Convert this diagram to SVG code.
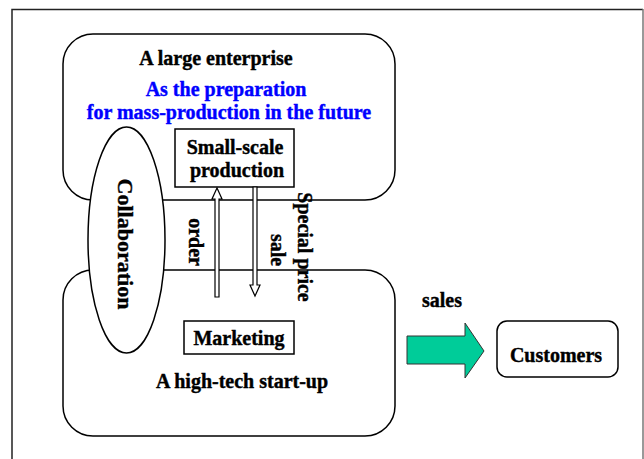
<svg xmlns="http://www.w3.org/2000/svg" width="644" height="459" viewBox="0 0 644 459">
<style>
text{font-family:"Liberation Serif","Times New Roman",serif;font-weight:bold;font-size:20px;fill:#000;stroke:#000;stroke-width:0.4;text-anchor:middle}
.blue{fill:#0000ff;stroke:#0000ff}
.big{font-size:22px}
.ln{fill:none;stroke:#000;stroke-width:1.5}
.box{fill:#fff;stroke:#000;stroke-width:1.5}
.harr{fill:#fff;stroke:#000;stroke-width:1.2}
</style>
<rect width="644" height="459" fill="#fff"/>
<path d="M12,470 V9.5 H643" fill="none" stroke="#222" stroke-width="1.5"/>
<line x1="643" y1="9" x2="643" y2="470" stroke="#777" stroke-width="1.5"/>
<g id="enterprise">
<rect class="ln" x="63" y="34" width="332" height="166" rx="30" ry="30"/>
<text x="216" y="65">A large enterprise</text>
<text class="blue" x="226" y="96">As the preparation</text>
<text class="blue" x="229" y="119">for mass-production in the future</text>
</g>
<g id="startup">
<rect class="ln" x="63" y="270" width="332" height="166" rx="30" ry="30"/>
<text x="242" y="388">A high-tech start-up</text>
</g>
<g id="collaboration">
<ellipse class="box" cx="126.5" cy="240" rx="38.5" ry="113"/>
<text class="big" transform="translate(118,244) rotate(90)">Collaboration</text>
</g>
<g id="production">
<rect class="box" x="175" y="129" width="119" height="58"/>
<text x="235" y="154">Small-scale</text>
<text x="237" y="177">production</text>
</g>
<g id="marketing">
<rect class="box" x="184" y="321" width="110" height="33"/>
<text x="239" y="345">Marketing</text>
</g>
<g id="customers">
<rect class="box" x="497" y="321" width="121" height="56" rx="10" ry="10"/>
<text x="556" y="362">Customers</text>
</g>
<g id="connectors">
<polygon class="harr" points="215,297 219,297 219,199 222,199 217,188 212,199 215,199"/>
<polygon class="harr" points="253,187 257,187 257,285 260,285 255,296 250,285 253,285"/>
<text transform="translate(189,242) rotate(90)">order</text>
<text transform="translate(298,247) rotate(90)">Special price</text>
<text transform="translate(271,250) rotate(90)">sale</text>
<polygon points="407,336 465,336 465,323 484,351 465,378 465,364 407,364" fill="#00cc99" stroke="#333" stroke-width="1"/>
<text x="442" y="307">sales</text>
</g>
</svg>
